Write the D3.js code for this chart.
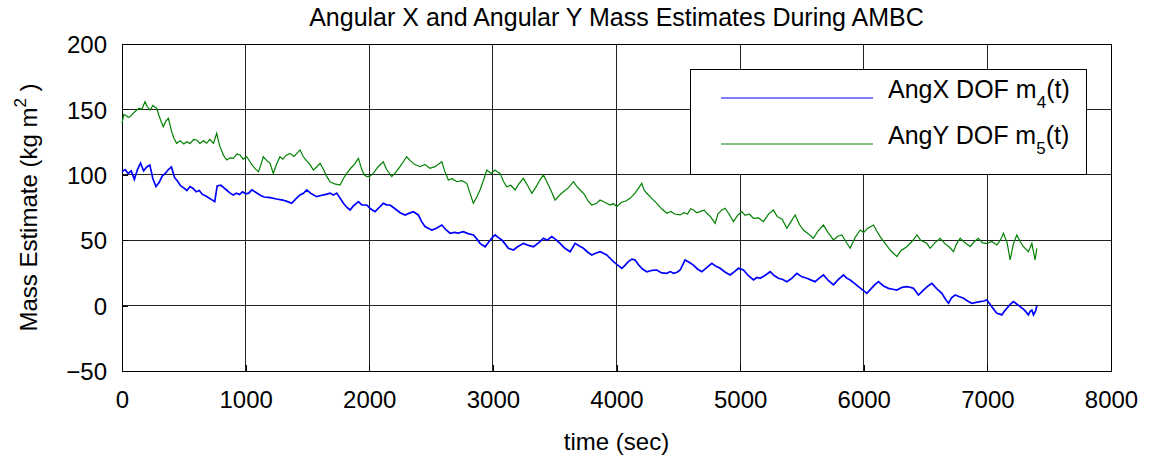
<!DOCTYPE html>
<html>
<head>
<meta charset="utf-8">
<script src="https://cdn.jsdelivr.net/npm/d3@7"></script>
<style>
  html, body { margin: 0; padding: 0; background: #fff; }
  text { font-family: "Liberation Sans", Arial, sans-serif; fill: #000; }
</style>
</head>
<body>
<svg id="chart" width="1151" height="460"></svg>
<script>
// Angular X mass estimate m4(t): time (sec) and estimate (kg m^2)
const angXTime = [0, 25, 50, 75, 100, 125, 150, 175, 200, 225, 250, 275, 300, 325, 350, 375, 400, 425, 450, 475, 500, 525, 550, 575, 600, 625, 650, 675, 700, 725, 750, 770, 800, 825, 850, 875, 900, 925, 950, 975, 1000, 1025, 1050, 1075, 1100, 1125, 1150, 1200, 1250, 1300, 1340, 1373, 1400, 1440, 1470, 1494, 1525, 1550, 1575, 1600, 1650, 1683, 1710, 1737, 1765, 1791, 1820, 1845, 1870, 1912, 1940, 1980, 2010, 2047, 2080, 2114, 2140, 2168, 2195, 2222, 2250, 2290, 2320, 2357, 2397, 2425, 2451, 2480, 2506, 2540, 2587, 2620, 2654, 2690, 2720, 2761, 2800, 2842, 2870, 2896, 2937, 2970, 3000, 3018, 3045, 3072, 3100, 3125, 3166, 3200, 3247, 3290, 3328, 3370, 3409, 3440, 3476, 3510, 3544, 3580, 3625, 3665, 3700, 3732, 3765, 3800, 3830, 3867, 3895, 3921, 3950, 3975, 4010, 4043, 4070, 4096, 4125, 4150, 4180, 4210, 4245, 4290, 4326, 4365, 4407, 4435, 4461, 4490, 4515, 4555, 4590, 4622, 4655, 4690, 4730, 4771, 4805, 4838, 4880, 4919, 4955, 4986, 5027, 5065, 5108, 5135, 5162, 5200, 5243, 5275, 5310, 5345, 5378, 5420, 5459, 5500, 5540, 5575, 5607, 5640, 5674, 5715, 5755, 5795, 5836, 5862, 5890, 5925, 5957, 5990, 6025, 6060, 6090, 6119, 6160, 6200, 6235, 6268, 6310, 6348, 6375, 6402, 6443, 6483, 6520, 6551, 6590, 6632, 6660, 6686, 6710, 6739, 6770, 6807, 6840, 6874, 6910, 6942, 6970, 6996, 7036, 7060, 7077, 7100, 7117, 7140, 7157, 7185, 7211, 7240, 7265, 7300, 7332, 7345, 7360, 7373, 7390, 7400];
const angXMass = [102.4, 104, 101, 103, 96.5, 104, 109, 103, 106, 107.5, 97, 91, 94, 99, 101, 104, 106, 98, 95, 91.5, 90, 88, 91, 89.5, 87, 88, 85, 84, 82.5, 81, 79.5, 91.5, 92, 90, 88, 86, 84.6, 86, 85, 87, 85.5, 86, 88.5, 87, 85.5, 84, 83, 82.5, 81.5, 80.7, 79.5, 78.2, 81, 84.6, 86, 88.4, 86, 84.5, 83.3, 84, 85, 86, 84.5, 86, 82, 78.2, 75, 73.1, 76, 79.5, 77, 76.9, 74, 71.8, 75, 78.2, 77, 76.9, 75, 73.1, 71, 69.3, 70.5, 71.8, 69.3, 64, 60.4, 59, 57.8, 59, 61.6, 58, 55.3, 56, 55.5, 56.5, 55, 54, 51, 47.6, 45, 49, 52.5, 54, 52, 50.2, 47, 43.8, 42.5, 45, 47.6, 46, 45, 48, 51.5, 50, 52.7, 50.5, 47.6, 44, 41.2, 47.6, 45.5, 43.8, 41, 38.7, 40, 41.2, 40, 38.7, 36, 33.6, 31, 28.5, 31, 33.6, 35.5, 34.9, 31, 28, 25.9, 27, 27.2, 25, 24.7, 26, 24.7, 25.5, 27.2, 34.9, 33, 31, 28, 25.9, 29, 32.3, 30, 28.5, 25.5, 23.4, 26, 28.5, 27.2, 23, 19.6, 21.5, 20.9, 23, 25.9, 23, 20.9, 20, 18.3, 21, 24.7, 22, 20.9, 19.5, 18.3, 21, 23.4, 19, 15.8, 20, 23.4, 21, 19.6, 17, 14.5, 12, 9.4, 13, 16, 18.3, 15, 13.2, 12.5, 11.9, 14, 14.5, 14, 13.2, 8.1, 11.9, 15, 17, 13, 9.4, 5, 1.8, 6, 8.1, 7, 5.6, 3.5, 1.8, 2.5, 3, 3.5, 4.3, -0.8, -4, -5.9, -6.5, -7.1, -4, -2.1, 1, 3, 1, -0.8, -3.5, -7.1, -4.5, -3.4, -7.1, -4, -0.3];

// Angular Y mass estimate m5(t): time (sec) and estimate (kg m^2)
const angYTime = [0, 15, 30, 50, 65, 90, 119, 140, 160, 186, 205, 227, 250, 281, 300, 320, 334, 355, 375, 402, 420, 442, 470, 500, 523, 550, 580, 604, 630, 660, 685, 710, 740, 766, 780, 793, 820, 847, 875, 901, 930, 955, 980, 1009, 1035, 1063, 1085, 1103, 1125, 1143, 1170, 1197, 1224, 1250, 1278, 1300, 1330, 1359, 1390, 1420, 1440, 1467, 1490, 1520, 1548, 1575, 1602, 1630, 1655, 1683, 1720, 1764, 1790, 1818, 1850, 1880, 1912, 1940, 1960, 1980, 2005, 2033, 2070, 2114, 2140, 2182, 2215, 2249, 2275, 2303, 2330, 2365, 2411, 2450, 2490, 2532, 2560, 2587, 2610, 2640, 2670, 2708, 2750, 2789, 2815, 2842, 2870, 2896, 2925, 2951, 2985, 3018, 3040, 3058, 3085, 3112, 3145, 3180, 3210, 3247, 3280, 3315, 3345, 3380, 3409, 3440, 3470, 3503, 3535, 3571, 3610, 3652, 3680, 3706, 3740, 3770, 3800, 3835, 3867, 3905, 3948, 3975, 4002, 4040, 4075, 4110, 4150, 4180, 4204, 4225, 4245, 4285, 4326, 4365, 4407, 4440, 4470, 4515, 4545, 4575, 4600, 4622, 4650, 4680, 4710, 4730, 4760, 4798, 4820, 4850, 4879, 4910, 4946, 4980, 5013, 5040, 5075, 5108, 5150, 5188, 5230, 5269, 5300, 5340, 5378, 5410, 5445, 5480, 5512, 5550, 5593, 5630, 5674, 5710, 5755, 5790, 5823, 5855, 5890, 5930, 5971, 6000, 6030, 6079, 6105, 6133, 6170, 6214, 6240, 6268, 6300, 6348, 6390, 6430, 6460, 6510, 6537, 6575, 6618, 6660, 6690, 6726, 6750, 6780, 6820, 6861, 6895, 6928, 6960, 6996, 7035, 7077, 7105, 7130, 7160, 7184, 7210, 7238, 7265, 7292, 7332, 7360, 7386, 7400];
const angYMass = [139.5, 146, 145.5, 144, 144.4, 147, 149.5, 151, 150, 155.9, 152, 149.5, 153, 150.8, 145, 140, 136.8, 141, 143.2, 133, 128, 124.1, 126, 123.5, 125.3, 124, 127, 126.6, 124, 126, 124.1, 127, 124, 131.7, 126, 121.5, 115, 111.3, 113, 112.6, 116, 115.1, 112, 113.8, 110, 106.2, 104, 102.4, 108, 113.8, 111, 108.8, 101.1, 108, 113.8, 112, 115, 116.4, 114, 117, 119, 113.8, 111, 108, 103.7, 106, 108.8, 104, 99, 94.7, 93, 92.2, 97, 101.1, 105, 108, 112.6, 104, 100, 98.6, 99, 101.1, 106, 110, 104, 98.6, 102, 106.2, 110, 113.8, 111, 108, 106.2, 108, 105, 106.2, 108, 110, 103, 96, 97, 94.7, 95.5, 93.5, 86, 78.2, 83, 88.4, 96, 103.7, 101, 103.7, 102, 101.1, 95, 90.9, 92, 88.4, 93, 97.3, 92, 85.9, 90, 96, 99.9, 94, 88, 80.7, 84, 87.1, 90, 94.7, 91, 88.4, 85, 80, 76.9, 78, 80.7, 79, 76.9, 78, 75.6, 79, 80, 82, 86, 90, 93.5, 88, 85.9, 82, 78.2, 74, 70.6, 72, 70, 69.3, 71, 70, 74, 73.1, 71, 72, 73, 70.6, 68, 62.9, 70, 73, 74.4, 70, 64.2, 69, 71.8, 69, 70, 66.7, 67, 64.2, 70, 73.1, 68, 66, 59.1, 64, 69.3, 62, 57.8, 55, 51.5, 57, 61.6, 56, 50.2, 53, 54, 49, 43.8, 52, 57.8, 56, 59, 61.6, 57, 52.7, 48, 42.5, 40, 37.4, 42, 45, 49, 54, 50, 47.6, 43.8, 48, 51.5, 47, 45, 41.2, 47, 51.5, 48, 45, 49, 51.5, 48, 47.6, 49, 46.3, 50, 55.3, 48, 34.9, 47, 54, 49, 45, 41.2, 47.6, 34.9, 43.8];

const xTicks = [0, 1000, 2000, 3000, 4000, 5000, 6000, 7000, 8000];
const yTicks = [-50, 0, 50, 100, 150, 200];

const titleText = "Angular X and Angular Y Mass Estimates During AMBC";
const xLabelText = "time (sec)";

const svg = d3.select("#chart");
const m = { left: 122, top: 44, right: 1111, bottom: 371 };

const x = d3.scaleLinear().domain([0, 8000]).range([m.left, m.right]);
const y = d3.scaleLinear().domain([-50, 200]).range([m.bottom, m.top]);

// grid lines
const grid = svg.append("g").attr("stroke", "#222").attr("stroke-width", 1).attr("shape-rendering", "crispEdges");
xTicks.slice(1, -1).forEach(t => grid.append("line").attr("x1", x(t)).attr("x2", x(t)).attr("y1", m.top).attr("y2", m.bottom));
yTicks.slice(1, -1).forEach(t => grid.append("line").attr("x1", m.left).attr("x2", m.right).attr("y1", y(t)).attr("y2", y(t)));

// axes with inward ticks
const xAxis = d3.axisBottom(x).tickValues(xTicks).tickSizeInner(-6).tickSizeOuter(0).tickPadding(20)
  .tickFormat(d3.format("d"));
const yAxis = d3.axisLeft(y).tickValues(yTicks).tickSizeInner(-6).tickSizeOuter(0).tickPadding(15)
  .tickFormat(d => d < 0 ? "\u2212" + Math.abs(d) : String(d));

const gx = svg.append("g").attr("transform", `translate(0,${m.bottom})`).call(xAxis);
const gy = svg.append("g").attr("transform", `translate(${m.left},0)`).call(yAxis);
[gx, gy].forEach(g => {
  g.attr("font-size", 24).attr("font-family", "Liberation Sans, Arial, sans-serif");
  g.select(".domain").remove();
  g.selectAll("line").attr("stroke", "#000").attr("shape-rendering", "crispEdges");
  g.selectAll("text").attr("font-size", 24).attr("fill", "#000");
});
gy.selectAll("text").attr("dy", "0.36em");

// frame
svg.append("rect").attr("x", m.left).attr("y", m.top).attr("width", m.right - m.left).attr("height", m.bottom - m.top)
  .attr("fill", "none").attr("stroke", "#000").attr("stroke-width", 1).attr("shape-rendering", "crispEdges");

// series
const line = d3.line().x(d => x(d[0])).y(d => y(d[1]));
svg.append("path").datum(angYTime.map((t, i) => [t, angYMass[i]]))
  .attr("d", line).attr("fill", "none").attr("stroke", "#008000").attr("stroke-width", 1.2);
svg.append("path").datum(angXTime.map((t, i) => [t, angXMass[i]]))
  .attr("d", line).attr("fill", "none").attr("stroke", "#0000ff").attr("stroke-width", 1.7);

// title and axis labels
svg.append("text").attr("x", (m.left + m.right) / 2).attr("y", 26).attr("text-anchor", "middle")
  .attr("font-size", 25).text(titleText);
svg.append("text").attr("x", (m.left + m.right) / 2).attr("y", 450).attr("text-anchor", "middle")
  .attr("font-size", 24).text(xLabelText);

const yl = svg.append("text").attr("transform", `translate(37,${(m.top + m.bottom) / 2}) rotate(-90)`)
  .attr("text-anchor", "middle").attr("font-size", 24);
yl.append("tspan").text("Mass Estimate (kg m");
yl.append("tspan").attr("font-size", 17).attr("dy", -11).text("2");
yl.append("tspan").attr("dy", 11).text(" )");

// legend
const lg = svg.append("g");
lg.append("rect").attr("x", 690.5).attr("y", 69.5).attr("width", 396).attr("height", 105)
  .attr("fill", "#fff").attr("stroke", "#000").attr("stroke-width", 1);
const entries = [
  { name: "AngX DOF m", sub: "4", color: "#0000ff", yy: 98 },
  { name: "AngY DOF m", sub: "5", color: "#008000", yy: 144 }
];
entries.forEach(e => {
  lg.append("line").attr("x1", 721).attr("x2", 873).attr("y1", e.yy).attr("y2", e.yy)
    .attr("stroke", e.color).attr("stroke-width", 1);
  const t = lg.append("text").attr("x", 888).attr("y", e.yy).attr("font-size", 25);
  t.append("tspan").text(e.name);
  t.append("tspan").attr("font-size", 17).attr("dy", 10).text(e.sub);
  t.append("tspan").attr("dy", -10).text("(t)");
});
</script>
</body>
</html>
